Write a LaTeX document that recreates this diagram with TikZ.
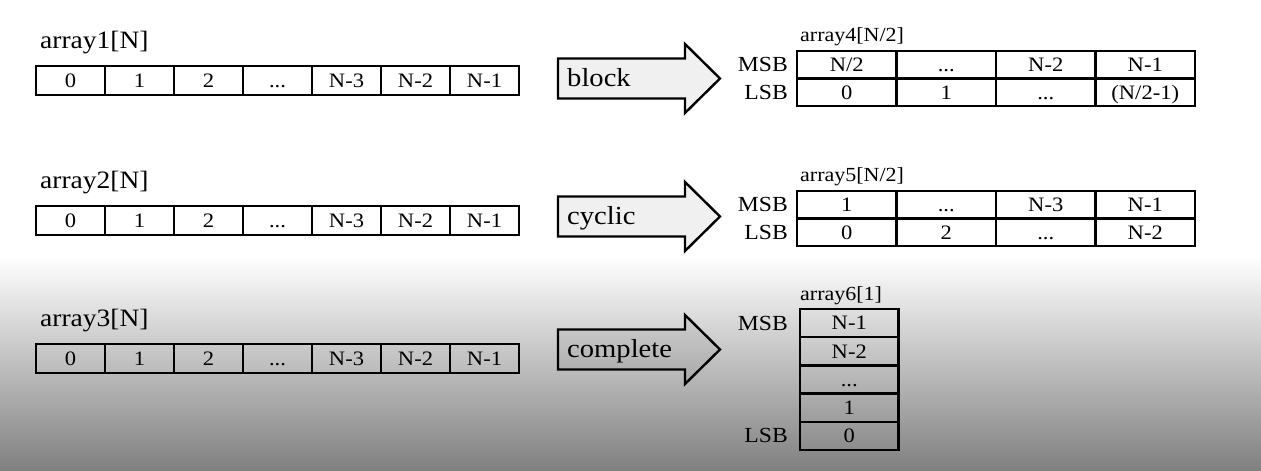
\documentclass[tikz,border=0pt]{standalone}
\usepackage{fontspec}
\setmainfont{Liberation Serif}[FakeStretch=1.1]

\def\dd{...}

\begin{document}
\begin{tikzpicture}[x=1pt, y=-1pt,
	cell/.style={draw, line width=2.4pt, inner sep=0pt, text height=13.5pt, text depth=0pt,
		minimum width=69pt, minimum height=29pt, font=\fontsize{20.5}{24}\selectfont},
	wide/.style={cell, minimum width=99.5pt, minimum height=27.5pt},
	tall/.style={cell, minimum width=98.5pt, minimum height=28.2pt},
	arrlbl/.style={anchor=base west, inner sep=0pt, font=\fontsize{25}{28}\selectfont},
	sublbl/.style={anchor=base west, inner sep=0pt, font=\fontsize{20}{24}\selectfont},
	bitlbl/.style={anchor=east, inner sep=0pt, font=\fontsize{21.5}{24}\selectfont},
	bigarrow/.style={draw, line width=2.4pt, line join=miter, fill=black, fill opacity=0.06},
	arrtxt/.style={anchor=base west, inner sep=0pt, font=\fontsize{26}{30}\selectfont}]

	% page and the dark band at the bottom
	\useasboundingbox (0,0) rectangle (1261,471);
	\shade[top color=white, middle color=black!34, bottom color=black!50] (0,256) rectangle (1261,471);

	% the three input arrays
	\foreach \r/\yy in {1/80.5, 2/220.5, 3/358.5} {
		\node[arrlbl] (t\r) at (40,\yy-32.5) {array\r[N]};
		\foreach \t [count=\i from 0] in {0,1,2,\dd,N-3,N-2,N-1}
			\node[cell] (a\r-\i) at (70.5+69*\i,\yy) {\t};
	}

	% block arrows
	\foreach \yy/\w [count=\k] in {78.5/block, 216.5/cyclic, 349.5/complete} {
		\draw[bigarrow] (558,\yy-20) -- (685,\yy-20) -- (685,\yy-34.5) -- (720,\yy)
			-- (685,\yy+34.5) -- (685,\yy+20) -- (558,\yy+20) -- cycle;
		\node[arrtxt] (w\k) at (567,\yy+7.5) {\w};
	}

	% array4
	\node[sublbl] (t4) at (800,41) {array4[N/2]};
	\node[bitlbl] (ms4) at (788,64.75) {MSB};
	\node[bitlbl] (ls4) at (788,92.25) {LSB};
	\foreach \t [count=\i from 0] in {N/2,\dd,N-2,N-1}
		\node[wide] (m4-\i) at (846.75+99.5*\i,64.75) {\t};
	\foreach \t [count=\i from 0] in {0,1,\dd,{(N/2-1)}}
		\node[wide] (l4-\i) at (846.75+99.5*\i,92.25) {\t};

	% array5
	\node[sublbl] (t5) at (800,181) {array5[N/2]};
	\node[bitlbl] (ms5) at (788,204.75) {MSB};
	\node[bitlbl] (ls5) at (788,232.25) {LSB};
	\foreach \t [count=\i from 0] in {1,\dd,N-3,N-1}
		\node[wide] (m5-\i) at (846.75+99.5*\i,204.75) {\t};
	\foreach \t [count=\i from 0] in {0,2,\dd,N-2}
		\node[wide] (l5-\i) at (846.75+99.5*\i,232.25) {\t};

	% array6
	\node[sublbl] (t6) at (800,300) {array6[1]};
	\node[bitlbl] (ms6) at (788,323.1) {MSB};
	\node[bitlbl] (ls6) at (788,435.9) {LSB};
	\foreach \t [count=\i from 0] in {N-1,N-2,\dd,1,0}
		\node[tall] (c6-\i) at (849.25,323.1+28.2*\i) {\t};

\end{tikzpicture}
\end{document}
